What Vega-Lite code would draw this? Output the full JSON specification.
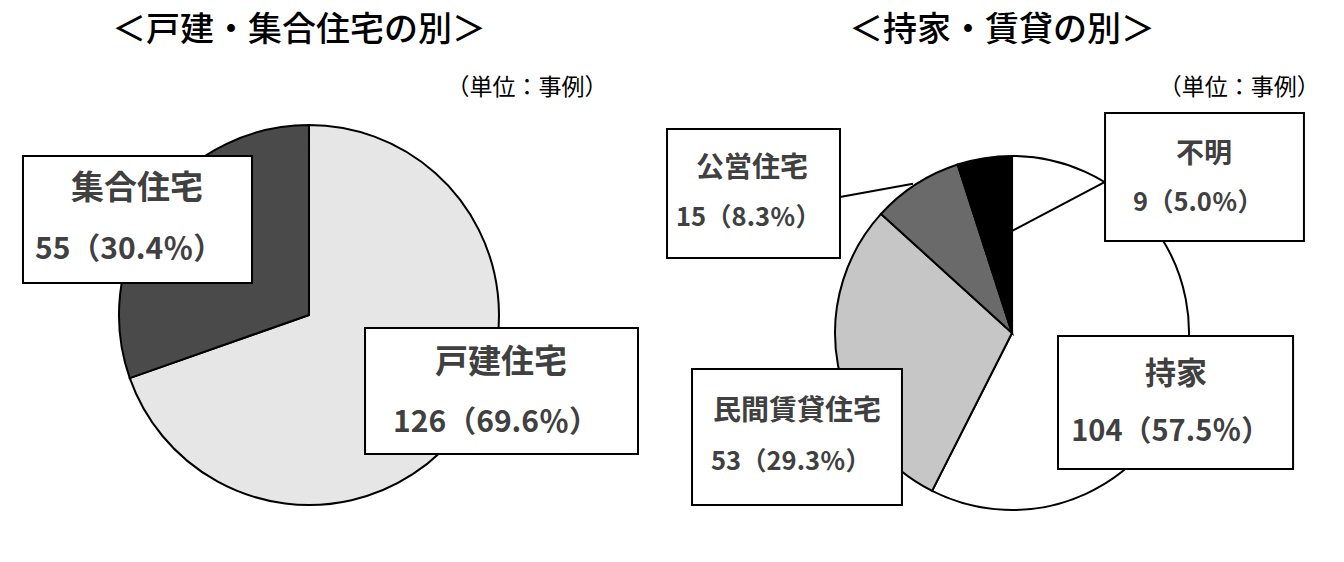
{
  "$schema": "https://vega.github.io/schema/vega-lite/v6.json",
  "width": 1344,
  "height": 562,
  "padding": 0,
  "autosize": {"type": "fit", "contains": "padding"},
  "background": "white",
  "config": {"view": {"stroke": null}, "text": {"font": "Noto Sans CJK JP"}},
  "datasets": {
    "kodate": [
      {"name": "戸建住宅", "count": 126, "label": "126（69.6％）"},
      {"name": "集合住宅", "count": 55, "label": "55（30.4％）"}
    ],
    "mochiie": [
      {"name": "持家", "count": 104, "label": "104（57.5％）"},
      {"name": "民間賃貸住宅", "count": 53, "label": "53（29.3％）"},
      {"name": "公営住宅", "count": 15, "label": "15（8.3％）"},
      {"name": "不明", "count": 9, "label": "9（5.0％）"}
    ],
    "titles": [
      {"chart": "left", "title": "＜戸建・集合住宅の別＞", "unit": "（単位：事例）"},
      {"chart": "right", "title": "＜持家・賃貸の別＞", "unit": "（単位：事例）"}
    ]
  },
  "resolve": {"scale": {"theta": "independent"}},
  "layer": [
    {
      "data": {"name": "kodate"},
      "mark": {"type": "arc", "outerRadius": 190, "stroke": "black", "strokeWidth": 2},
      "encoding": {
        "theta": {"field": "count", "type": "quantitative", "stack": true},
        "order": {"field": "count", "sort": "descending"},
        "color": {"field": "name", "type": "nominal", "legend": null,
          "scale": {"domain": ["戸建住宅", "集合住宅", "持家", "民間賃貸住宅", "公営住宅", "不明"],
                    "range": ["#e6e6e6", "#4a4a4a", "#ffffff", "#c6c6c6", "#6a6a6a", "#000000"]}},
        "x": {"datum": 22.99, "type": "quantitative", "scale": {"domain": [0, 100], "nice": false, "zero": false}, "axis": null},
        "y": {"datum": 56.05, "type": "quantitative", "scale": {"domain": [0, 100], "nice": false, "zero": false, "reverse": true}, "axis": null}
      }
    },
    {
      "data": {"name": "mochiie"},
      "mark": {"type": "arc", "outerRadius": 177, "stroke": "black", "strokeWidth": 2},
      "encoding": {
        "theta": {"field": "count", "type": "quantitative", "stack": true},
        "order": {"field": "count", "sort": "descending"},
        "color": {"field": "name", "type": "nominal", "legend": null,
          "scale": {"domain": ["戸建住宅", "集合住宅", "持家", "民間賃貸住宅", "公営住宅", "不明"],
                    "range": ["#e6e6e6", "#4a4a4a", "#ffffff", "#c6c6c6", "#6a6a6a", "#000000"]}},
        "x": {"datum": 75.3, "type": "quantitative"},
        "y": {"datum": 59.25, "type": "quantitative"}
      }
    },
    {
      "data": {"name": "mochiie"},
      "transform": [{"filter": "datum.name === '公営住宅'"}],
      "mark": {"type": "rule", "stroke": "black", "strokeWidth": 2},
      "encoding": {"x": {"datum": 62.5}, "y": {"datum": 35.05}, "x2": {"datum": 67.93}, "y2": {"datum": 32.7}}
    },
    {
      "data": {"name": "mochiie"},
      "transform": [{"filter": "datum.name === '不明'"}],
      "mark": {"type": "rule", "stroke": "black", "strokeWidth": 2},
      "encoding": {"x": {"datum": 75.3}, "y": {"datum": 41.1}, "x2": {"datum": 82.22}, "y2": {"datum": 32.38}}
    },
    {
      "data": {"name": "kodate"},
      "transform": [{"filter": "datum.name === '集合住宅'"}],
      "layer": [
        {"mark": {"type": "rect", "fill": "white", "stroke": "black", "strokeWidth": 2},
         "encoding": {"x": {"datum": 1.71}, "x2": {"datum": 18.75}, "y": {"datum": 27.76}, "y2": {"datum": 50.36}}},
        {"mark": {"type": "text", "align": "center", "baseline": "middle", "fontSize": 33, "fontWeight": "bold", "fill": "#404040"},
         "encoding": {"x": {"datum": 10.19}, "y": {"datum": 33.63}, "text": {"field": "name"}}},
        {"mark": {"type": "text", "align": "left", "baseline": "middle", "fontSize": 30, "fontWeight": "bold", "fill": "#404040"},
         "encoding": {"x": {"datum": 2.6}, "y": {"datum": 44.48}, "text": {"field": "label"}}}
      ]
    },
    {
      "data": {"name": "kodate"},
      "transform": [{"filter": "datum.name === '戸建住宅'"}],
      "layer": [
        {"mark": {"type": "rect", "fill": "white", "stroke": "black", "strokeWidth": 2},
         "encoding": {"x": {"datum": 27.16}, "x2": {"datum": 47.47}, "y": {"datum": 58.36}, "y2": {"datum": 80.78}}},
        {"mark": {"type": "text", "align": "center", "baseline": "middle", "fontSize": 33, "fontWeight": "bold", "fill": "#404040"},
         "encoding": {"x": {"datum": 37.28}, "y": {"datum": 64.59}, "text": {"field": "name"}}},
        {"mark": {"type": "text", "align": "left", "baseline": "middle", "fontSize": 30, "fontWeight": "bold", "fill": "#404040"},
         "encoding": {"x": {"datum": 29.25}, "y": {"datum": 75.27}, "text": {"field": "label"}}}
      ]
    },
    {
      "data": {"name": "mochiie"},
      "transform": [{"filter": "datum.name === '公営住宅'"}],
      "layer": [
        {"mark": {"type": "rect", "fill": "white", "stroke": "black", "strokeWidth": 2},
         "encoding": {"x": {"datum": 49.63}, "x2": {"datum": 62.5}, "y": {"datum": 22.95}, "y2": {"datum": 45.91}}},
        {"mark": {"type": "text", "align": "center", "baseline": "middle", "fontSize": 28, "fontWeight": "bold", "fill": "#404040"},
         "encoding": {"x": {"datum": 55.95}, "y": {"datum": 30.07}, "text": {"field": "name"}}},
        {"mark": {"type": "text", "align": "left", "baseline": "middle", "fontSize": 25.5, "fontWeight": "bold", "fill": "#404040"},
         "encoding": {"x": {"datum": 50.3}, "y": {"datum": 38.79}, "text": {"field": "label"}}}
      ]
    },
    {
      "data": {"name": "mochiie"},
      "transform": [{"filter": "datum.name === '不明'"}],
      "layer": [
        {"mark": {"type": "rect", "fill": "white", "stroke": "black", "strokeWidth": 2},
         "encoding": {"x": {"datum": 82.22}, "x2": {"datum": 97.02}, "y": {"datum": 20.11}, "y2": {"datum": 42.88}}},
        {"mark": {"type": "text", "align": "center", "baseline": "middle", "fontSize": 28, "fontWeight": "bold", "fill": "#404040"},
         "encoding": {"x": {"datum": 89.58}, "y": {"datum": 27.58}, "text": {"field": "name"}}},
        {"mark": {"type": "text", "align": "left", "baseline": "middle", "fontSize": 25.5, "fontWeight": "bold", "fill": "#404040"},
         "encoding": {"x": {"datum": 84.3}, "y": {"datum": 36.12}, "text": {"field": "label"}}}
      ]
    },
    {
      "data": {"name": "mochiie"},
      "transform": [{"filter": "datum.name === '持家'"}],
      "layer": [
        {"mark": {"type": "rect", "fill": "white", "stroke": "black", "strokeWidth": 2},
         "encoding": {"x": {"datum": 78.72}, "x2": {"datum": 96.21}, "y": {"datum": 59.79}, "y2": {"datum": 83.45}}},
        {"mark": {"type": "text", "align": "center", "baseline": "middle", "fontSize": 31, "fontWeight": "bold", "fill": "#404040"},
         "encoding": {"x": {"datum": 87.5}, "y": {"datum": 66.73}, "text": {"field": "name"}}},
        {"mark": {"type": "text", "align": "left", "baseline": "middle", "fontSize": 29, "fontWeight": "bold", "fill": "#404040"},
         "encoding": {"x": {"datum": 79.7}, "y": {"datum": 76.87}, "text": {"field": "label"}}}
      ]
    },
    {
      "data": {"name": "mochiie"},
      "transform": [{"filter": "datum.name === '民間賃貸住宅'"}],
      "layer": [
        {"mark": {"type": "rect", "fill": "white", "stroke": "black", "strokeWidth": 2},
         "encoding": {"x": {"datum": 51.49}, "x2": {"datum": 67.11}, "y": {"datum": 65.66}, "y2": {"datum": 89.86}}},
        {"mark": {"type": "text", "align": "center", "baseline": "middle", "fontSize": 28, "fontWeight": "bold", "fill": "#404040"},
         "encoding": {"x": {"datum": 59.3}, "y": {"datum": 73.31}, "text": {"field": "name"}}},
        {"mark": {"type": "text", "align": "left", "baseline": "middle", "fontSize": 25.5, "fontWeight": "bold", "fill": "#404040"},
         "encoding": {"x": {"datum": 52.9}, "y": {"datum": 82.21}, "text": {"field": "label"}}}
      ]
    },
    {
      "data": {"name": "titles"},
      "transform": [{"filter": "datum.chart === 'left'"}],
      "layer": [
        {"mark": {"type": "text", "align": "center", "baseline": "middle", "fontSize": 34, "fontWeight": 500, "fill": "black"},
         "encoding": {"x": {"datum": 22.25}, "y": {"datum": 5.5}, "text": {"field": "title"}}},
        {"mark": {"type": "text", "align": "right", "baseline": "middle", "fontSize": 23, "fill": "black"},
         "encoding": {"x": {"datum": 45.2}, "y": {"datum": 15.66}, "text": {"field": "unit"}}}
      ]
    },
    {
      "data": {"name": "titles"},
      "transform": [{"filter": "datum.chart === 'right'"}],
      "layer": [
        {"mark": {"type": "text", "align": "center", "baseline": "middle", "fontSize": 34, "fontWeight": 500, "fill": "black"},
         "encoding": {"x": {"datum": 74.55}, "y": {"datum": 5.6}, "text": {"field": "title"}}},
        {"mark": {"type": "text", "align": "right", "baseline": "middle", "fontSize": 23, "fill": "black"},
         "encoding": {"x": {"datum": 98.2}, "y": {"datum": 15.66}, "text": {"field": "unit"}}}
      ]
    }
  ]
}
